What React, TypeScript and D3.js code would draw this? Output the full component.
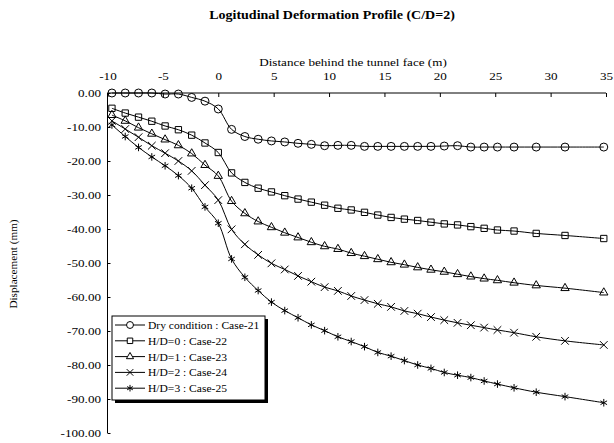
import React, { useEffect, useRef } from 'react';
import * as d3 from 'd3';

// distance behind the tunnel face (m)
const distance = [
  -9.6, -8.4, -7.2, -6, -4.8, -3.6, -2.4, -1.2, 0,
  1.2, 2.4, 3.6, 4.8, 6, 7.2, 8.4, 9.6, 10.8, 12, 13.2, 14.4, 15.6, 16.8, 18, 19.2, 20.4, 21.6, 22.8, 24, 25.2,
  26.7, 28.7, 31.3, 34.8,
];

const case21 = [
  0.0, 0.0, 0.0, 0.0, -0.3, -0.3, -1.3, -2.4, -4.7,
  -10.7, -12.8, -13.6, -14.1, -14.4, -14.8, -15.1, -15.5, -15.4, -15.4, -15.7, -15.7, -15.7, -15.7, -15.7, -15.7, -15.6, -15.5, -15.9, -15.9, -15.9,
  -15.9, -15.9, -15.9, -15.9,
];
const case22 = [
  -4.5, -5.9, -7.1, -8.3, -9.7, -10.8, -12.4, -14.7, -17.5,
  -23.5, -26.3, -28.0, -29.1, -30.2, -31.2, -32.1, -33.0, -33.9, -34.4, -35.1, -35.9, -36.6, -37.1, -37.5, -38.0, -38.5, -38.8, -39.3, -39.8, -40.3,
  -40.6, -41.3, -41.9, -42.8,
];
const case23 = [
  -6.5, -8.2, -10.2, -12.0, -13.7, -15.4, -17.8, -21.2, -24.4,
  -31.8, -35.4, -37.8, -39.5, -41.1, -42.5, -43.9, -45.1, -45.9, -47.1, -48.0, -48.9, -49.8, -50.5, -51.3, -52.0, -52.6, -53.3, -54.0, -54.6, -55.1,
  -55.8, -56.6, -57.4, -58.7,
];
const case24 = [
  -8.2, -10.6, -13.0, -15.5, -17.7, -20.0, -22.9, -27.1, -31.5,
  -40.1, -44.5, -47.6, -50.1, -51.9, -53.8, -55.5, -57.1, -58.2, -59.7, -60.9, -62.0, -62.9, -64.1, -64.9, -65.9, -66.8, -67.6, -68.3, -69.0, -69.7,
  -70.5, -71.7, -72.9, -74.1,
];
const case25 = [
  -9.4, -12.8, -16.0, -18.8, -21.4, -24.3, -28.0, -33.5, -38.3,
  -48.8, -54.2, -58.1, -61.5, -64.0, -66.1, -68.2, -69.9, -71.7, -73.1, -74.6, -76.3, -77.4, -78.7, -80.0, -81.0, -82.2, -83.0, -83.7, -84.7, -85.6,
  -86.7, -88.0, -89.3, -91.1,
];

const seriesNames = [
  'Dry condition : Case-21',
  'H/D=0 : Case-22',
  'H/D=1 : Case-23',
  'H/D=2 : Case-24',
  'H/D=3 : Case-25',
];
const seriesValues = [case21, case22, case23, case24, case25];

const xTicks = [-10, -5, 0, 5, 10, 15, 20, 25, 30, 35];
const yTicks = [0, -10, -20, -30, -40, -50, -60, -70, -80, -90, -100];

const FONT = '"Liberation Serif", "Times New Roman", serif';
// the original picture is a bit wider than tall, text included
const SX = 1.25;

const symbols = [
  { type: d3.symbolCircle, size: 50 },
  { type: d3.symbolSquare, size: 40 },
  { type: d3.symbolTriangle, size: 30 },
  { type: d3.symbolX, size: 40 },
  { type: d3.symbolAsterisk, size: 40 },
];

const App: React.FC = () => {
  const chartRef = useRef<SVGSVGElement>(null);

  useEffect(() => {
    const svg = d3.select(chartRef.current);
    svg.selectAll('*').remove();

    const x = d3.scaleLinear().domain([-10, 35]).range([107.5, 606]);
    const y = d3.scaleLinear().domain([0, -100]).range([93, 433]);

    const label = (tx: number, ty: number, txt: string, size: number, sx: number, extra = '') =>
      svg.append('text')
        .attr('transform', `translate(${tx},${ty}) ${extra} scale(${sx},1)`)
        .attr('text-anchor', 'middle')
        .style('font-family', FONT).style('font-size', `${size}px`)
        .text(txt);

    label(332, 19, 'Logitudinal Deformation Profile (C/D=2)', 12, 1.17).style('font-weight', 'bold');
    label(353, 66, 'Distance behind the tunnel face (m)', 10.5, SX);
    label(17, 264, 'Displacement (mm)', 10, 1.12, 'rotate(-90)');

    const xAxis = svg.append('g')
      .attr('transform', `translate(0,${y(0)})`)
      .call(d3.axisTop(x).tickValues(xTicks).tickSize(-4).tickPadding(13).tickFormat(d => String(d)));
    xAxis.select('.domain').attr('d', `M${x(-10)},0H${x(35)}`);
    xAxis.selectAll('.tick text').attr('transform', `scale(${SX},1)`);

    const yAxis = svg.append('g')
      .attr('transform', `translate(${x(-10)},0)`)
      .call(d3.axisLeft(y).tickValues(yTicks).tickSize(-3).tickPadding(5.2).tickFormat(d => (d as number).toFixed(2)));
    yAxis.select('.domain').attr('d', `M0,${y(0)}V${y(-100)}`);
    yAxis.selectAll('.tick text').attr('transform', `scale(${SX},1)`);

    svg.selectAll('.tick text')
      .style('font-family', FONT).style('font-size', '10.5px').attr('fill', 'black');
    svg.selectAll('.domain, .tick line').attr('stroke', 'black');

    const line = d3.line<number>()
      .x((_, i) => x(distance[i]))
      .y(d => y(d))
      .curve(d3.curveCatmullRom.alpha(0.5));

    seriesValues.forEach((vals, s) => {
      const g = svg.append('g');
      g.append('path')
        .attr('d', line(vals))
        .attr('fill', 'none').attr('stroke', 'black').attr('stroke-width', 1);
      const sym = d3.symbol().type(symbols[s].type).size(symbols[s].size);
      g.selectAll('path.pt')
        .data(vals)
        .enter().append('path')
        .attr('class', 'pt')
        .attr('transform', (d, i) => `translate(${x(distance[i])},${y(d)})`)
        .attr('d', sym())
        .attr('fill', 'none')
        .attr('stroke', 'black').attr('stroke-width', 1);
    });

    // legend
    const lx = 112, ly = 316, lw = 153, lh = 84;
    svg.append('rect').attr('x', lx + 3).attr('y', ly + 3).attr('width', lw).attr('height', lh).attr('fill', 'black');
    svg.append('rect').attr('x', lx).attr('y', ly).attr('width', lw).attr('height', lh)
      .attr('fill', 'white').attr('stroke', 'black').attr('stroke-width', 1);

    seriesNames.forEach((name, s) => {
      const ry = 325 + s * 15.8;
      svg.append('line').attr('x1', 115).attr('x2', 145).attr('y1', ry).attr('y2', ry)
        .attr('stroke', 'black').attr('stroke-width', 1);
      svg.append('path')
        .attr('transform', `translate(130,${ry})`)
        .attr('d', d3.symbol().type(symbols[s].type).size(symbols[s].size * 0.75)())
        .attr('fill', 'white').attr('stroke', 'black').attr('stroke-width', 1);
      svg.append('text')
        .attr('transform', `translate(148,${ry + 4}) scale(1.05,1)`)
        .style('font-family', FONT).style('font-size', '11px')
        .text(name);
    });
  }, []);

  return (
    <div style={{ position: 'absolute', left: 0, top: 0 }}>
      <svg ref={chartRef} width="614" height="443" style={{ display: 'block', background: 'white' }}></svg>
    </div>
  );
};

export default App;
